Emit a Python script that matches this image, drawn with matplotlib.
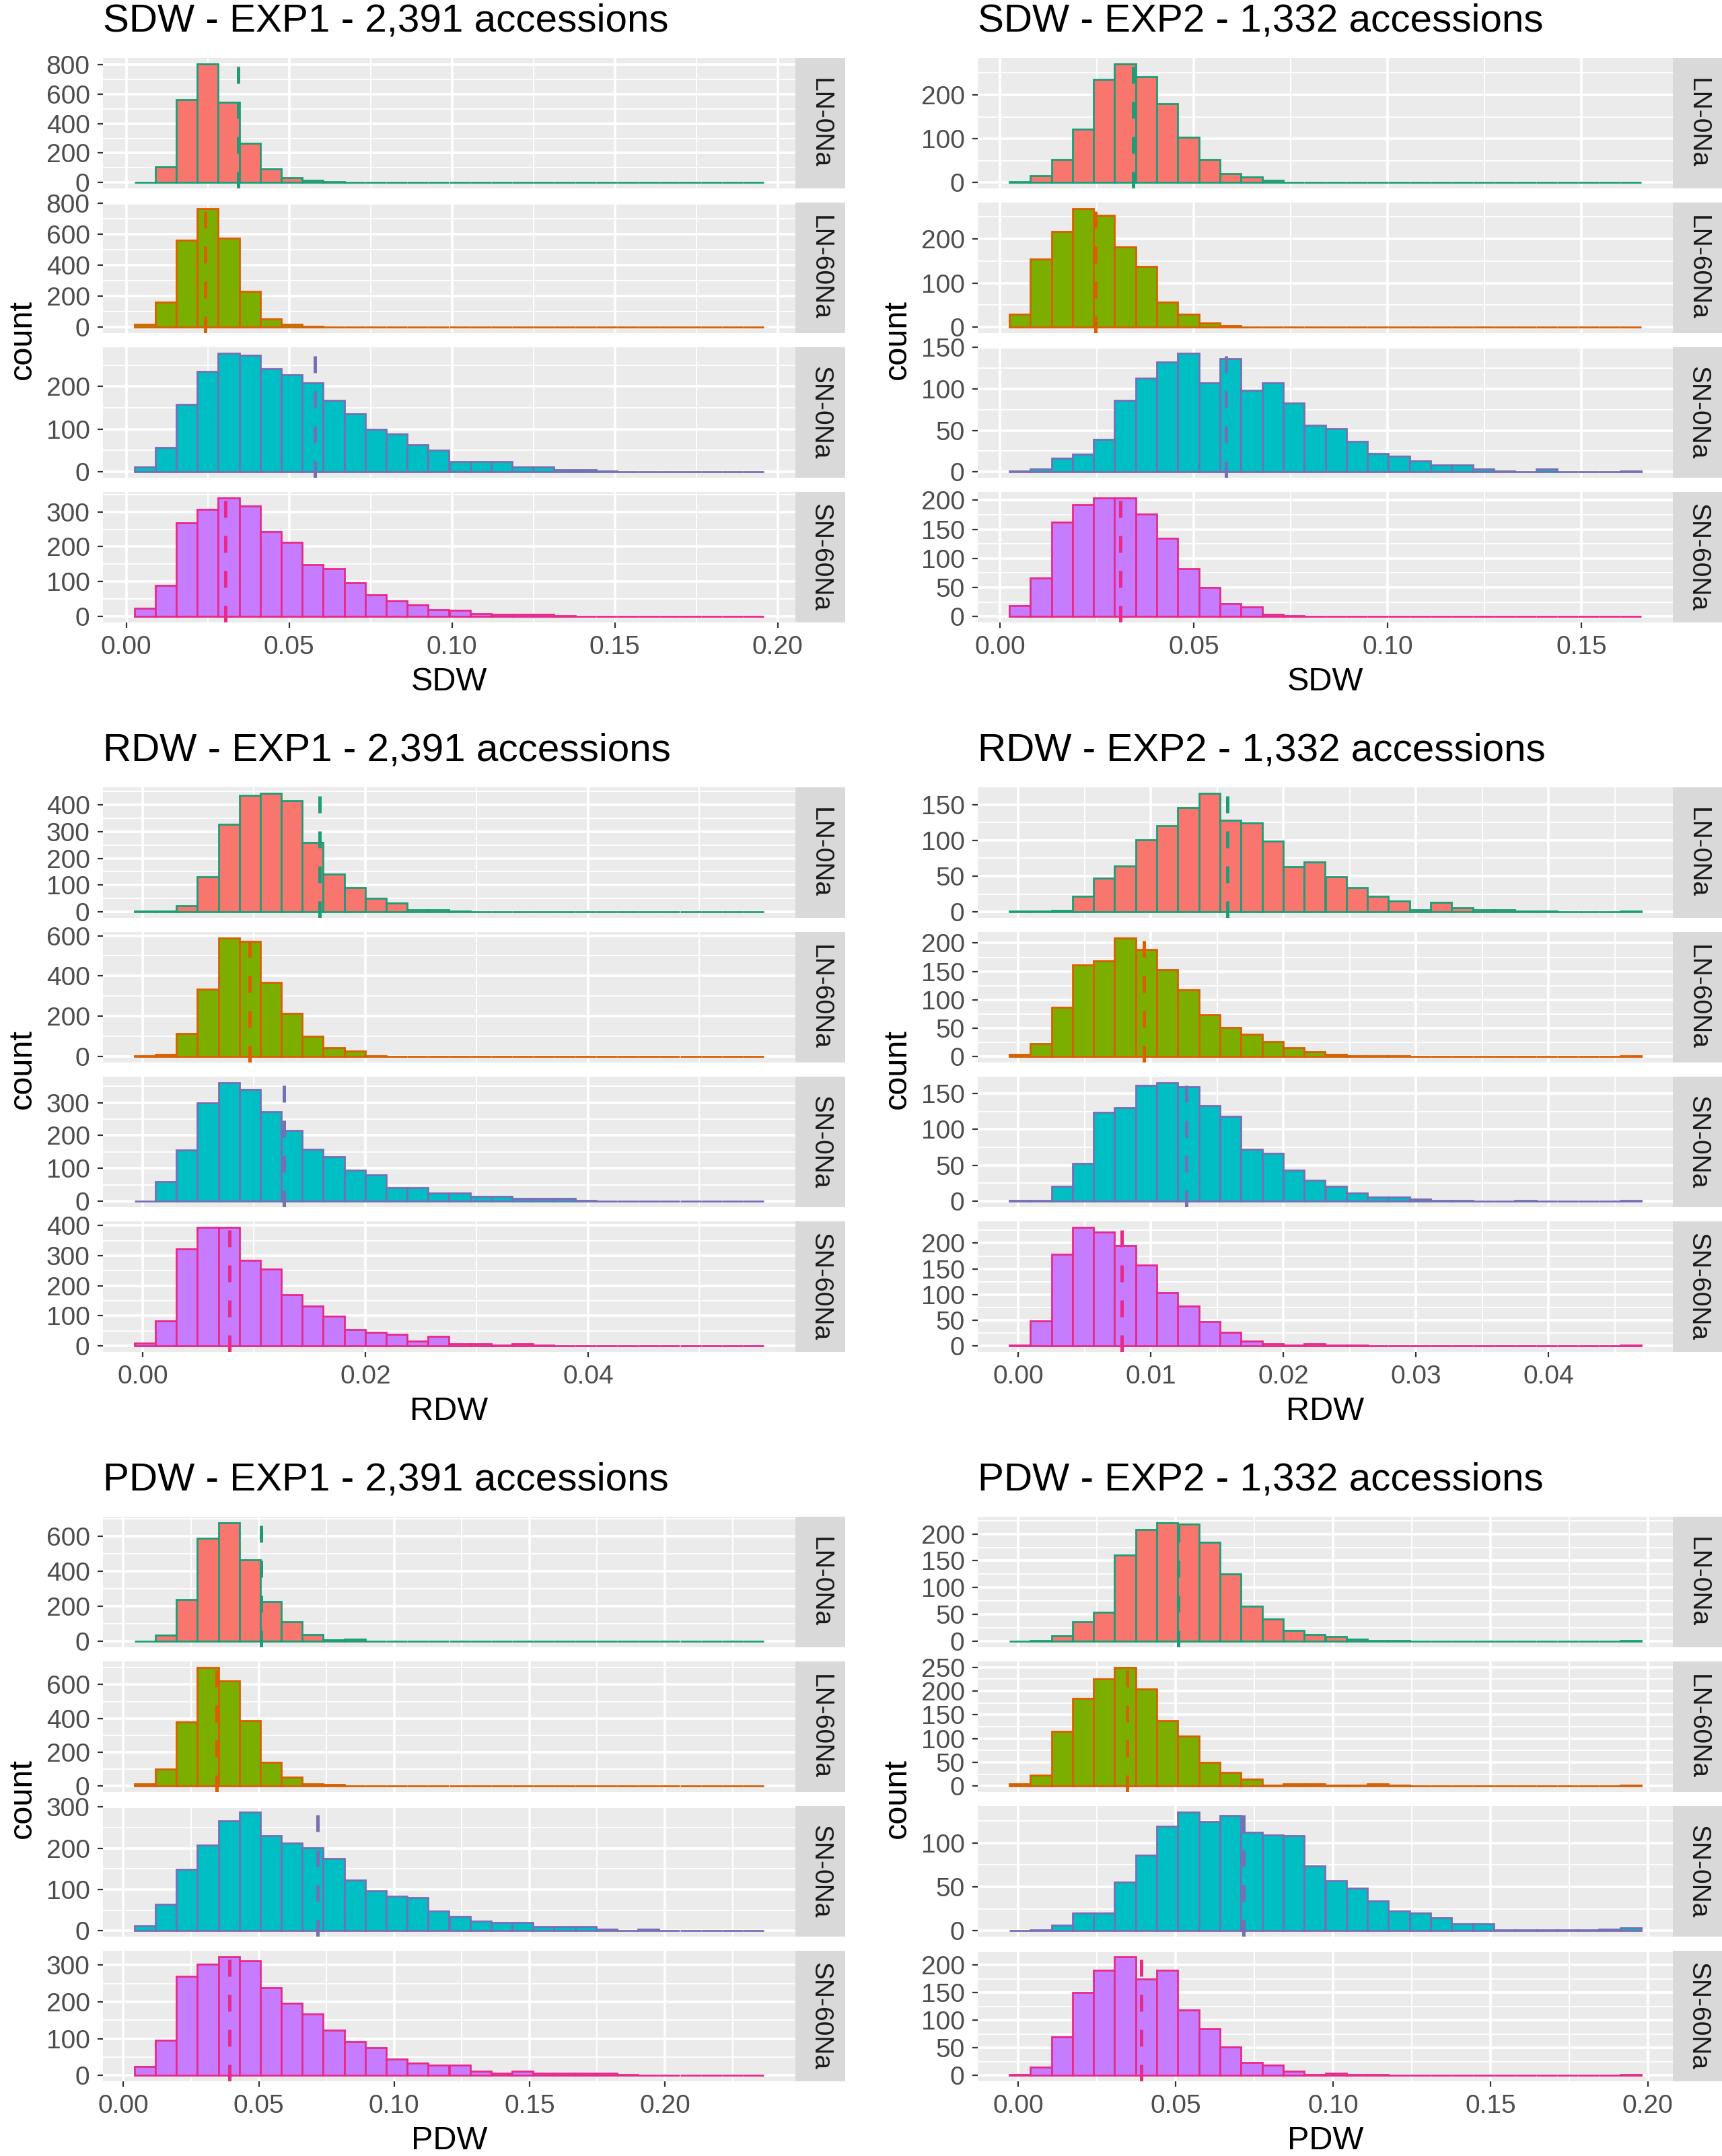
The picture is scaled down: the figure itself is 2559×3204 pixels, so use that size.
import numpy as np
import matplotlib
matplotlib.use("Agg")
import matplotlib.pyplot as plt
from matplotlib.patches import Rectangle

plt.rcParams["font.family"] = ["Liberation Sans", "DejaVu Sans"]

# facets (rows of each block) and their colours
treatments = ["LN-0Na", "LN-60Na", "SN-0Na", "SN-60Na"]
fill_colors = ["#F8766D", "#7CAE00", "#00BFC4", "#C77CFF"]
edge_colors = ["#1B9E77", "#D95F02", "#7570B3", "#E7298A"]

# ---- SDW - EXP1 (30 bins from 0.0025 to 0.1958)
sdw1_range = (0.0025, 0.1958)
sdw1_ln0 = [3, 105, 564, 806, 545, 265, 91, 35, 15, 4, 2, 1, 1, 1, 0, 1, 0, 0, 1, 0, 0, 0, 0, 0, 0, 0, 0, 0, 0, 1]
sdw1_ln60 = [18, 161, 558, 764, 573, 230, 54, 18, 4, 2, 1, 1, 0, 1, 0, 0, 0, 0, 0, 0, 0, 0, 0, 0, 0, 0, 0, 0, 0, 1]
sdw1_sn0 = [11, 57, 158, 235, 278, 273, 241, 228, 209, 167, 136, 100, 89, 64, 51, 24, 24, 24, 11, 11, 5, 5, 2, 1, 1, 1, 0, 1, 0, 1]
sdw1_sn60 = [24, 89, 269, 307, 340, 316, 243, 213, 149, 137, 96, 63, 44, 33, 20, 17, 9, 7, 7, 7, 2, 1, 1, 0, 1, 0, 0, 0, 0, 1]
sdw1_means = [0.0343, 0.0243, 0.0579, 0.0304]

# ---- SDW - EXP2
sdw2_range = (0.0024, 0.1654)
sdw2_ln0 = [2, 16, 52, 122, 236, 271, 241, 180, 103, 52, 21, 12, 5, 1, 1, 0, 0, 0, 0, 0, 0, 0, 0, 0, 0, 0, 0, 0, 0, 1]
sdw2_ln60 = [29, 155, 217, 269, 253, 182, 138, 56, 29, 9, 4, 1, 1, 0, 0, 0, 0, 0, 0, 0, 0, 0, 0, 0, 0, 0, 0, 0, 0, 0]
sdw2_sn0 = [1, 3, 16, 21, 39, 86, 113, 132, 143, 107, 136, 98, 107, 83, 56, 52, 37, 22, 19, 13, 8, 8, 3, 1, 0, 3, 0, 0, 0, 1]
sdw2_sn60 = [19, 66, 162, 192, 204, 204, 176, 134, 82, 50, 22, 16, 4, 1, 0, 0, 0, 0, 0, 0, 0, 0, 0, 0, 0, 0, 0, 0, 0, 0]
sdw2_means = [0.0344, 0.0246, 0.0583, 0.0310]

# ---- RDW - EXP1
rdw1_range = (-0.00074, 0.0558)
rdw1_ln0 = [2, 3, 24, 132, 326, 436, 443, 415, 258, 142, 92, 50, 34, 8, 8, 2, 1, 1, 1, 0, 0, 0, 0, 0, 0, 0, 0, 0, 0, 1]
rdw1_ln60 = [3, 11, 113, 333, 589, 571, 367, 213, 102, 45, 27, 3, 2, 1, 1, 0, 0, 0, 0, 0, 0, 0, 0, 0, 0, 0, 0, 0, 0, 1]
rdw1_sn0 = [1, 60, 156, 299, 361, 340, 272, 215, 157, 136, 94, 81, 42, 42, 25, 25, 14, 14, 8, 8, 8, 2, 1, 1, 1, 1, 0, 0, 0, 1]
rdw1_sn60 = [10, 83, 321, 394, 394, 284, 254, 171, 133, 98, 53, 45, 38, 15, 32, 8, 8, 2, 8, 2, 1, 1, 1, 0, 1, 0, 0, 0, 0, 1]
rdw1_means = [0.0159, 0.0096, 0.0127, 0.0078]

# ---- RDW - EXP2
rdw2_range = (-0.00067, 0.04699)
rdw2_ln0 = [1, 1, 2, 22, 47, 64, 101, 121, 146, 166, 128, 124, 99, 63, 70, 49, 34, 22, 15, 3, 13, 6, 3, 3, 1, 1, 0, 0, 0, 1]
rdw2_ln60 = [4, 23, 87, 161, 169, 209, 189, 153, 118, 74, 51, 39, 26, 16, 8, 4, 1, 1, 1, 0, 0, 0, 0, 0, 0, 0, 0, 0, 0, 1]
rdw2_sn0 = [1, 1, 21, 53, 124, 130, 161, 165, 159, 133, 118, 72, 67, 43, 29, 21, 11, 6, 6, 3, 1, 1, 0, 0, 1, 0, 0, 0, 0, 1]
rdw2_sn60 = [1, 49, 178, 231, 222, 196, 158, 104, 78, 47, 27, 10, 4, 2, 4, 1, 1, 0, 0, 0, 0, 0, 0, 0, 0, 0, 0, 0, 0, 1]
rdw2_means = [0.0158, 0.0095, 0.0127, 0.0078]

# ---- PDW - EXP1
pdw1_range = (0.00406, 0.2366)
pdw1_ln0 = [2, 36, 238, 587, 677, 464, 226, 113, 38, 10, 13, 2, 1, 1, 0, 0, 0, 0, 0, 0, 0, 0, 0, 0, 0, 0, 0, 0, 0, 1]
pdw1_ln60 = [11, 102, 378, 702, 621, 388, 142, 54, 11, 8, 2, 1, 1, 0, 1, 0, 0, 0, 0, 0, 0, 0, 0, 0, 0, 0, 0, 0, 0, 1]
pdw1_sn0 = [12, 64, 149, 208, 267, 288, 231, 212, 201, 175, 122, 96, 83, 80, 48, 34, 23, 20, 20, 10, 10, 10, 4, 1, 4, 1, 1, 1, 1, 1]
pdw1_sn60 = [25, 95, 270, 302, 323, 311, 238, 197, 167, 123, 92, 76, 44, 34, 28, 28, 12, 5, 12, 5, 5, 5, 5, 2, 1, 1, 1, 1, 1, 1]
pdw1_means = [0.0508, 0.0345, 0.0717, 0.0392]

# ---- PDW - EXP2
pdw2_range = (-0.0028, 0.1979)
pdw2_ln0 = [0, 1, 10, 37, 54, 160, 208, 221, 218, 185, 125, 65, 41, 20, 13, 9, 4, 1, 1, 0, 0, 0, 0, 0, 0, 0, 0, 0, 0, 1]
pdw2_ln60 = [4, 23, 115, 185, 226, 250, 204, 138, 105, 50, 28, 14, 1, 4, 4, 1, 1, 4, 1, 0, 0, 0, 0, 0, 0, 0, 0, 0, 0, 1]
pdw2_sn0 = [0, 1, 6, 20, 20, 55, 86, 119, 135, 124, 131, 112, 109, 108, 74, 57, 48, 34, 22, 20, 15, 8, 8, 1, 1, 1, 1, 1, 2, 3]
pdw2_sn60 = [1, 15, 70, 150, 190, 215, 174, 190, 119, 84, 51, 23, 19, 7, 2, 4, 1, 1, 0, 0, 0, 0, 0, 0, 0, 0, 0, 0, 0, 1]
pdw2_means = [0.0508, 0.0347, 0.0716, 0.0392]

# axis ticks
x_ticks_wide = [0.00, 0.05, 0.10, 0.15, 0.20]
x_labels_wide = ["0.00", "0.05", "0.10", "0.15", "0.20"]
x_ticks_sdw2 = [0.00, 0.05, 0.10, 0.15]
x_labels_sdw2 = ["0.00", "0.05", "0.10", "0.15"]
x_ticks_rdw1 = [0.00, 0.02, 0.04]
x_labels_rdw1 = ["0.00", "0.02", "0.04"]
x_ticks_rdw2 = [0.00, 0.01, 0.02, 0.03, 0.04]
x_labels_rdw2 = ["0.00", "0.01", "0.02", "0.03", "0.04"]

y_ticks_sdw1 = [[0, 200, 400, 600, 800], [0, 200, 400, 600, 800], [0, 100, 200], [0, 100, 200, 300]]
y_ticks_sdw2 = [[0, 100, 200], [0, 100, 200], [0, 50, 100, 150], [0, 50, 100, 150, 200]]
y_ticks_rdw1 = [[0, 100, 200, 300, 400], [0, 200, 400, 600], [0, 100, 200, 300], [0, 100, 200, 300, 400]]
y_ticks_rdw2 = [[0, 50, 100, 150], [0, 50, 100, 150, 200], [0, 50, 100, 150], [0, 50, 100, 150, 200]]
y_ticks_pdw1 = [[0, 200, 400, 600], [0, 200, 400, 600], [0, 100, 200, 300], [0, 100, 200, 300]]
y_ticks_pdw2 = [[0, 50, 100, 150, 200], [0, 50, 100, 150, 200, 250], [0, 50, 100], [0, 50, 100, 150, 200]]

panels = [
    ("SDW - EXP1 - 2,391 accessions", "SDW", sdw1_range, [sdw1_ln0, sdw1_ln60, sdw1_sn0, sdw1_sn60],
     sdw1_means, x_ticks_wide, x_labels_wide, y_ticks_sdw1),
    ("SDW - EXP2 - 1,332 accessions", "SDW", sdw2_range, [sdw2_ln0, sdw2_ln60, sdw2_sn0, sdw2_sn60],
     sdw2_means, x_ticks_sdw2, x_labels_sdw2, y_ticks_sdw2),
    ("RDW - EXP1 - 2,391 accessions", "RDW", rdw1_range, [rdw1_ln0, rdw1_ln60, rdw1_sn0, rdw1_sn60],
     rdw1_means, x_ticks_rdw1, x_labels_rdw1, y_ticks_rdw1),
    ("RDW - EXP2 - 1,332 accessions", "RDW", rdw2_range, [rdw2_ln0, rdw2_ln60, rdw2_sn0, rdw2_sn60],
     rdw2_means, x_ticks_rdw2, x_labels_rdw2, y_ticks_rdw2),
    ("PDW - EXP1 - 2,391 accessions", "PDW", pdw1_range, [pdw1_ln0, pdw1_ln60, pdw1_sn0, pdw1_sn60],
     pdw1_means, x_ticks_wide, x_labels_wide, y_ticks_pdw1),
    ("PDW - EXP2 - 1,332 accessions", "PDW", pdw2_range, [pdw2_ln0, pdw2_ln60, pdw2_sn0, pdw2_sn60],
     pdw2_means, x_ticks_wide, x_labels_wide, y_ticks_pdw2),
]

W, H = 2559, 3204
DPI = 200
ROW_PITCH = 1084
COL_LEFT = [153, 1453]
COL_RIGHT = [1182, 2486]
COUNT_X = [33, 1333]
STRIP_W = 74
FACET_TOP = 86
FACET_H = 194
FACET_GAP = 21

fig = plt.figure(figsize=(W / DPI, H / DPI), dpi=DPI)


def add_ax(x0, y0, x1, y1):
    return fig.add_axes([x0 / W, 1 - y1 / H, (x1 - x0) / W, (y1 - y0) / H])


def minor_between(ticks, lo, hi):
    step = ticks[1] - ticks[0]
    cand = [ticks[0] - step / 2] + [t + step / 2 for t in ticks]
    return [c for c in cand if lo < c < hi]


for k, (title, xlab, rng, counts_list, means, xt, xtl, yts) in enumerate(panels):
    r, c = divmod(k, 2)
    oy = r * ROW_PITCH
    left, right = COL_LEFT[c], COL_RIGHT[c]
    lo, hi = rng
    edges = np.linspace(lo, hi, 31)
    binw = edges[1] - edges[0]
    span = hi - lo
    xlim = (lo - 0.05 * span, hi + 0.05 * span)

    for i in range(4):
        top = oy + FACET_TOP + i * (FACET_H + FACET_GAP)
        ax = add_ax(left, top, right, top + FACET_H)
        counts = counts_list[i]
        m = max(counts)
        ax.set_facecolor("#EBEBEB")
        for s in ax.spines.values():
            s.set_visible(False)
        ax.bar(edges[:-1], counts, width=binw, align="edge", color=fill_colors[i],
               edgecolor=edge_colors[i], linewidth=1.0, zorder=2)
        ax.axvline(means[i], color=edge_colors[i], linewidth=1.8,
                   linestyle=(0, (5, 5.4)), zorder=3)
        ax.set_xlim(*xlim)
        ylim = (-0.05 * m, 1.05 * m)
        ax.set_ylim(*ylim)

        ax.set_xticks(xt)
        ax.set_xticks(minor_between(xt, *xlim), minor=True)
        ax.set_yticks(yts[i])
        ax.set_yticklabels([str(v) for v in yts[i]])
        ax.set_yticks(minor_between(yts[i], *ylim), minor=True)
        ax.grid(which="major", color="white", linewidth=1.3, zorder=0)
        ax.grid(which="minor", color="white", linewidth=0.65, zorder=0)
        ax.set_axisbelow(True)
        ax.tick_params(which="minor", length=0)
        ax.tick_params(axis="both", which="major", length=3, width=0.8, color="#333333",
                       labelcolor="#4D4D4D", labelsize=14, pad=4)
        if i == 3:
            ax.set_xticklabels(xtl)
        else:
            ax.tick_params(axis="x", which="major", length=0, labelbottom=False)

        sw = STRIP_W / (right - left)
        ax.add_patch(Rectangle((1, 0), sw, 1, transform=ax.transAxes, clip_on=False,
                               facecolor="#D9D9D9", edgecolor="none"))
        ax.text(1 + sw / 2, 0.5, treatments[i], transform=ax.transAxes, rotation=-90,
                ha="center", va="center", fontsize=14, color="#1A1A1A")

    fig.text(left / W, 1 - (oy + 32) / H, title, ha="left", va="center", fontsize=21, color="black")
    fig.text((left + right) / 2 / W, 1 - (oy + 1013) / H, xlab, ha="center", va="center",
             fontsize=17.5, color="black")
    fig.text(COUNT_X[c] / W, 1 - (oy + 505) / H, "count", rotation=90, ha="center", va="center",
             fontsize=17.5, color="black")

fig.savefig("out.png", dpi=DPI)
plt.close(fig)
